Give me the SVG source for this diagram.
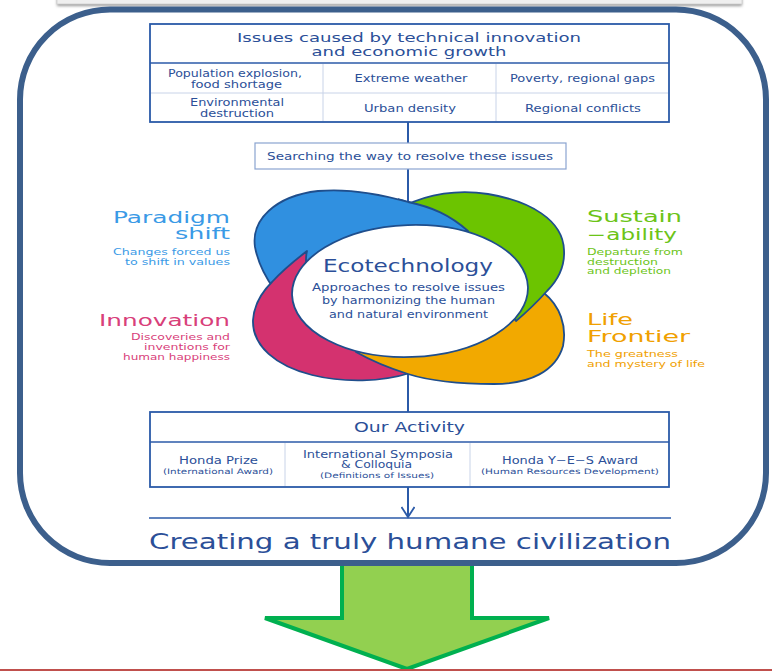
<svg xmlns="http://www.w3.org/2000/svg" width="772" height="671" viewBox="0 0 772 671">
<style>
.t{font-family:"DejaVu Sans","Liberation Sans",sans-serif;fill:#2b4f98;text-anchor:middle}
.l{font-family:"DejaVu Sans","Liberation Sans",sans-serif;text-anchor:end}
.r{font-family:"DejaVu Sans","Liberation Sans",sans-serif;text-anchor:start}
.big{font-size:15.5px}
.sm{font-size:9px}
.cell{font-size:10px}
.box{fill:#fff;stroke:#2b5aa8;stroke-width:1.8}
.div{stroke:#2b5aa8;stroke-width:1.5}
.thin{stroke:#c8d3e8;stroke-width:1}
.pet{stroke:#1f4e8c;stroke-width:1.8;stroke-linejoin:round}
.con{stroke:#2b5aa8;stroke-width:2;fill:none}
</style>
<defs>
<filter id="blur" x="-5%" y="-100%" width="110%" height="300%"><feGaussianBlur stdDeviation="1.5"/></filter>
<marker id="v" markerWidth="14" markerHeight="14" refX="11" refY="7" orient="auto" markerUnits="userSpaceOnUse">
<path d="M1,0.5 L11,7 L1,13.5" fill="none" stroke="#2b5aa8" stroke-width="1.8"/>
</marker>
<clipPath id="bc"><rect x="398" y="185" width="85" height="60"/></clipPath>
<path id="bluePetal" d="M468,231 C450,215 432,207 408,202 C380,194 350,188 318,191 C275,196 251,220 255,247 C258,263 264,275 274,289 C284,303 300,314 322,318 C332,282 380,242 468,231 Z"/>
</defs>

<g id="topbar">
<rect x="57" y="-6" width="685" height="12" fill="#999" filter="url(#blur)"/>
<rect x="57" y="-8" width="685" height="12" fill="#efefef" stroke="#d0d0d0" stroke-width="0.8"/>
</g>

<g id="big-arrow">
<polygon points="342,550 472,550 472,618 549,618 407,669 265,618 342,618" fill="#92d050" stroke="#00b050" stroke-width="4"/>
</g>

<line x1="0" y1="670" x2="772" y2="670" stroke="#c0504d" stroke-width="2"/>

<g id="frame">
<rect x="20" y="9.5" width="746" height="553.5" rx="90" ry="90" fill="#fff" stroke="#3c5f8c" stroke-width="6"/>
</g>

<g id="connectors">
<line class="con" x1="408" y1="122" x2="408" y2="143"/>
<line class="con" x1="408" y1="169" x2="408" y2="203"/>
<line class="con" x1="408" y1="374" x2="408" y2="412"/>
<line class="con" x1="408" y1="487" x2="408" y2="517" marker-end="url(#v)"/>
<line x1="149" y1="518" x2="671" y2="518" stroke="#2b5aa8" stroke-width="1.5"/>
</g>

<g id="issues">
<rect class="box" x="150" y="24" width="519" height="98"/>
<line class="div" x1="150" y1="63" x2="669" y2="63"/>
<line class="thin" x1="151" y1="93" x2="668" y2="93"/>
<line class="thin" x1="323" y1="64" x2="323" y2="121"/>
<line class="thin" x1="496" y1="64" x2="496" y2="121"/>
<text class="t" x="409" y="41.5" font-size="13" textLength="344" lengthAdjust="spacingAndGlyphs">Issues caused by technical innovation</text>
<text class="t" x="409" y="55.5" font-size="13" textLength="195" lengthAdjust="spacingAndGlyphs">and economic growth</text>
<text class="t cell" x="235" y="76.6" textLength="134" lengthAdjust="spacingAndGlyphs">Population explosion,</text>
<text class="t cell" x="236.5" y="87.6" textLength="91" lengthAdjust="spacingAndGlyphs">food shortage</text>
<text class="t cell" x="411" y="82" textLength="113" lengthAdjust="spacingAndGlyphs">Extreme weather</text>
<text class="t cell" x="582.5" y="82" textLength="145" lengthAdjust="spacingAndGlyphs">Poverty, regional gaps</text>
<text class="t cell" x="237" y="105.6" textLength="94" lengthAdjust="spacingAndGlyphs">Environmental</text>
<text class="t cell" x="237" y="116.6" textLength="74" lengthAdjust="spacingAndGlyphs">destruction</text>
<text class="t cell" x="410" y="112" textLength="92" lengthAdjust="spacingAndGlyphs">Urban density</text>
<text class="t cell" x="583" y="112" textLength="116" lengthAdjust="spacingAndGlyphs">Regional conflicts</text>
</g>

<g id="search">
<rect x="255" y="143" width="311" height="26" fill="#fff" stroke="#8aa4d0" stroke-width="1.2"/>
<text class="t cell" x="410" y="159.6" textLength="286" lengthAdjust="spacingAndGlyphs">Searching the way to resolve these issues</text>
</g>

<g id="ecotechnology">
<use href="#bluePetal" class="pet" fill="#3090e0"/>
<path class="pet" fill="#d4326f" d="M410,373 C382,382 344,383 312,375 C276,366 252,346 253,320 C254,305 262,292 272,282 C282,271 294,261 307,251 C300,282 330,330 398,352 Z"/>
<path class="pet" fill="#f2a900" d="M544,293 C560,306 567,326 563,346 C556,371 530,384 494,384 C458,384 430,381 408,374 C389,368 370,360 356,352 C400,342 470,322 530,296 Z"/>
<path class="pet" fill="#6cc400" d="M404,206 C428,194 458,189 488,194 C530,201 563,220 564,250 C565,266 558,280 547,291 C538,301 528,311 516,321 C502,300 482,262 440,231 Z"/>
<use href="#bluePetal" class="pet" fill="#3090e0" clip-path="url(#bc)"/>
<ellipse cx="410" cy="291" rx="118" ry="66" transform="rotate(-2 410 291)" fill="#fff" stroke="#1f4e8c" stroke-width="1.8"/>
<text class="t" x="408" y="272" font-size="17" textLength="170" lengthAdjust="spacingAndGlyphs">Ecotechnology</text>
<text class="t cell" x="408.5" y="290.6" textLength="193" lengthAdjust="spacingAndGlyphs">Approaches to resolve issues</text>
<text class="t cell" x="408.5" y="303.6" textLength="173" lengthAdjust="spacingAndGlyphs">by harmonizing the human</text>
<text class="t cell" x="408.5" y="317.6" textLength="159" lengthAdjust="spacingAndGlyphs">and natural environment</text>
</g>

<g id="paradigm-shift" fill="#3a9ae6">
<text class="l big" x="230" y="222.5" textLength="117" lengthAdjust="spacingAndGlyphs">Paradigm</text>
<text class="l big" x="230" y="239" textLength="55" lengthAdjust="spacingAndGlyphs">shift</text>
<text class="l sm" x="230" y="255" textLength="117" lengthAdjust="spacingAndGlyphs">Changes forced us</text>
<text class="l sm" x="230" y="265" textLength="105" lengthAdjust="spacingAndGlyphs">to shift in values</text>
</g>

<g id="innovation" fill="#d8407a">
<text class="l big" x="230" y="326" textLength="131" lengthAdjust="spacingAndGlyphs">Innovation</text>
<text class="l sm" x="230" y="340.3" textLength="99" lengthAdjust="spacingAndGlyphs">Discoveries and</text>
<text class="l sm" x="230" y="350.3" textLength="86" lengthAdjust="spacingAndGlyphs">inventions for</text>
<text class="l sm" x="230" y="360.3" textLength="107" lengthAdjust="spacingAndGlyphs">human happiness</text>
</g>

<g id="sustainability" fill="#6cc417">
<text class="r big" x="587" y="222.3" textLength="95" lengthAdjust="spacingAndGlyphs">Sustain</text>
<text class="r big" x="587" y="239.7" textLength="90" lengthAdjust="spacingAndGlyphs">−ability</text>
<text class="r sm" x="587" y="255" textLength="96" lengthAdjust="spacingAndGlyphs">Departure from</text>
<text class="r sm" x="587" y="264.6" textLength="71" lengthAdjust="spacingAndGlyphs">destruction</text>
<text class="r sm" x="587" y="274.3" textLength="84" lengthAdjust="spacingAndGlyphs">and depletion</text>
</g>

<g id="life-frontier" fill="#f0a000">
<text class="r big" x="587" y="324.7" textLength="46" lengthAdjust="spacingAndGlyphs">Life</text>
<text class="r big" x="587" y="342.2" textLength="103" lengthAdjust="spacingAndGlyphs">Frontier</text>
<text class="r sm" x="587" y="357.3" textLength="91" lengthAdjust="spacingAndGlyphs">The greatness</text>
<text class="r sm" x="587" y="367.3" textLength="118" lengthAdjust="spacingAndGlyphs">and mystery of life</text>
</g>

<g id="activity">
<rect class="box" x="150" y="412" width="519" height="75"/>
<line class="div" x1="150" y1="442" x2="669" y2="442"/>
<line class="thin" x1="285" y1="443" x2="285" y2="486"/>
<line class="thin" x1="470" y1="443" x2="470" y2="486"/>
<text class="t" x="409.5" y="432" font-size="14" textLength="111" lengthAdjust="spacingAndGlyphs">Our Activity</text>
<text class="t" x="218.5" y="463.6" font-size="10" textLength="79" lengthAdjust="spacingAndGlyphs">Honda Prize</text>
<text class="t" x="218" y="474" font-size="7.5" textLength="110" lengthAdjust="spacingAndGlyphs">(International Award)</text>
<text class="t" x="378" y="457.6" font-size="10" textLength="150" lengthAdjust="spacingAndGlyphs">International Symposia</text>
<text class="t" x="376.5" y="468.4" font-size="10" textLength="71" lengthAdjust="spacingAndGlyphs">&amp; Colloquia</text>
<text class="t" x="377" y="478.4" font-size="7.5" textLength="114" lengthAdjust="spacingAndGlyphs">(Definitions of Issues)</text>
<text class="t" x="570" y="463.6" font-size="10" textLength="136" lengthAdjust="spacingAndGlyphs">Honda Y−E−S Award</text>
<text class="t" x="570" y="474" font-size="7.5" textLength="178" lengthAdjust="spacingAndGlyphs">(Human Resources Development)</text>
</g>

<g id="result">
<text class="t" x="410" y="549" font-size="22" textLength="522" lengthAdjust="spacingAndGlyphs">Creating a truly humane civilization</text>
</g>
</svg>
